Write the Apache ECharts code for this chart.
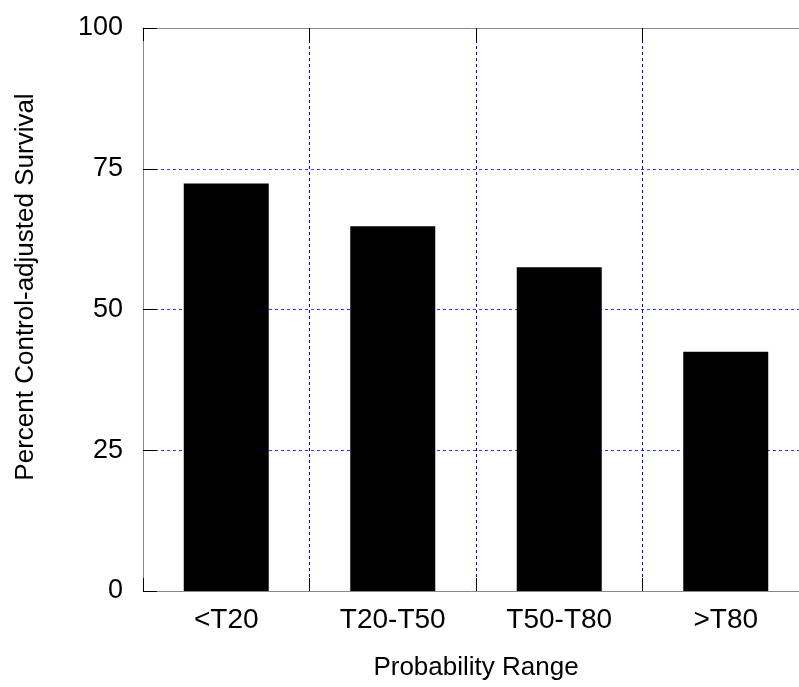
<!DOCTYPE html>
<html>
<head>
<meta charset="utf-8">
<script src="https://cdn.jsdelivr.net/npm/echarts@6/dist/echarts.min.js"></script>
<style>html,body{margin:0;padding:0;background:#fff;}#c{width:799px;height:687px;}</style>
</head>
<body>
<div id="c"></div>
<script>
const categories = ['<T20', 'T20-T50', 'T50-T80', '>T80'];
const survival = [72.4, 64.8, 57.5, 42.5];
const yTicks = [0, 25, 50, 75, 100];
const xTitle = 'Probability Range';
const yTitle = 'Percent Control-adjusted Survival';

const font = 'Liberation Sans, Arial, sans-serif';
function gridLine(c) { return { show: true, lineStyle: { color: c, width: 1, type: [3, 3], opacity: 1 } }; }
const chart = echarts.init(document.getElementById('c'), null, { renderer: 'canvas' });
chart.setOption({
  animation: false,
  backgroundColor: '#fff',
  grid: { left: 143, width: 666, top: 28, bottom: 96, containLabel: false, outerBoundsMode: 'none' },
  xAxis: [{
    type: 'category', data: categories, boundaryGap: true,
    name: xTitle, nameLocation: 'middle', nameGap: 64,
    nameTextStyle: { fontFamily: font, fontSize: 26, color: '#000' },
    axisLine: { show: true, lineStyle: { color: '#888', width: 1 } },
    axisTick: { show: true, inside: true, length: 13, lineStyle: { color: '#000' } },
    axisLabel: { fontFamily: font, fontSize: 28, color: '#000', margin: 15 },
    splitLine: gridLine('#0000ff')
  }, {
    type: 'category', data: categories, boundaryGap: true, position: 'top',
    axisLine: { show: true, lineStyle: { color: '#888', width: 1 } },
    axisTick: { show: true, inside: true, length: 13, lineStyle: { color: '#000' } },
    axisLabel: { show: false }, splitLine: { show: false }
  }],
  yAxis: [{
    type: 'value', min: 0, max: 100, interval: 25,
    axisLine: { show: true, lineStyle: { color: '#888', width: 1 } },
    axisTick: { show: true, inside: true, length: 14, lineStyle: { color: '#000' } },
    axisLabel: { fontFamily: font, fontSize: 27, color: '#000', margin: 20,
      formatter: v => yTicks.includes(v) ? String(v) : '' },
    splitLine: gridLine('#3333ff')
  }],
  graphic: [{
    type: 'text', x: 26, y: 287, rotation: Math.PI / 2,
    style: { text: yTitle, fontFamily: font, fontSize: 26, fill: '#000',
      textAlign: 'center', textVerticalAlign: 'middle' }
  }],
  series: [{
    type: 'bar', data: survival, barWidth: 85,
    itemStyle: { color: '#000' }, z: 3
  }]
});
</script>
</body>
</html>
